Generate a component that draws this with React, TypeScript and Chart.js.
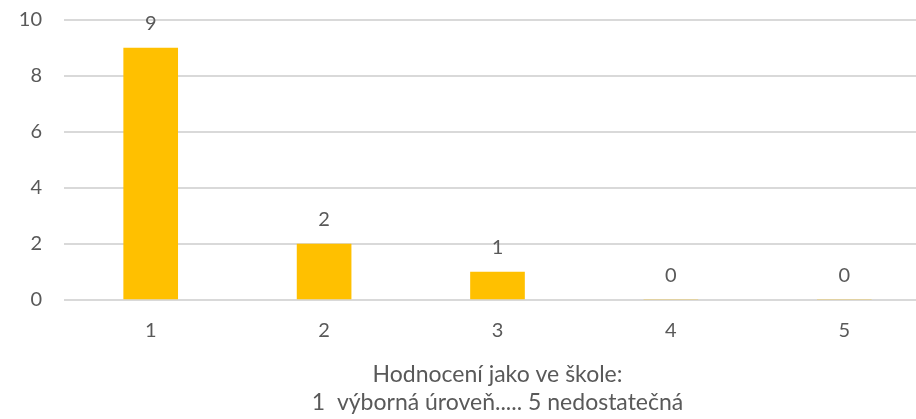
import React, { useEffect, useRef } from "react";
import { Chart, registerables } from "chart.js";

Chart.register(...registerables);

const categories = ["1", "2", "3", "4", "5"];
const counts = [9, 2, 1, 0, 0];
const axisTitle = ["Hodnocení jako ve škole:", "1  výborná úroveň..... 5 nedostatečná"];
const yMin = 0;
const yMax = 10;
const yStep = 2;

const FONT = "Lato, 'Open Sans', sans-serif";
const TEXT = "#595959";
const GRID = "#d9d9d9";
const BAR = "#FFC000";

const valueLabels = {
  id: "valueLabels",
  afterDatasetsDraw(chart: any) {
    const ctx = chart.ctx;
    const meta = chart.getDatasetMeta(0);
    ctx.save();
    ctx.font = `20px ${FONT}`;
    ctx.fillStyle = TEXT;
    ctx.textAlign = "center";
    ctx.textBaseline = "alphabetic";
    meta.data.forEach((bar: any, i: number) => {
      ctx.fillText(String(counts[i]), bar.x, bar.y - 18);
    });
    ctx.restore();
  },
};

export default function App() {
  const ref = useRef<HTMLCanvasElement>(null);
  useEffect(() => {
    if (!ref.current) return;
    const chart = new Chart(ref.current, {
      type: "bar",
      data: {
        labels: categories,
        datasets: [
          {
            data: counts,
            backgroundColor: BAR,
            barThickness: 54,
          },
        ],
      },
      options: {
        responsive: false,
        animation: false,
        devicePixelRatio: 1,
        layout: { padding: { top: 0, left: 0, right: 0, bottom: 0 } },
        plugins: {
          legend: { display: false },
          tooltip: { enabled: false },
        },
        scales: {
          y: {
            min: yMin,
            max: yMax,
            ticks: {
              stepSize: yStep,
              color: TEXT,
              font: { family: FONT, size: 20 },
              padding: 22,
            },
            grid: { color: GRID, lineWidth: 2, drawTicks: false },
            border: { display: false },
            afterFit(scale: any) {
              scale.width = 64;
              scale.paddingTop = 20;
            },
          },
          x: {
            ticks: {
              color: TEXT,
              font: { family: FONT, size: 20 },
              padding: 19,
            },
            grid: { display: false, drawTicks: false },
            border: { display: false },
            title: {
              display: true,
              text: axisTitle,
              color: TEXT,
              font: { family: FONT, size: 23, lineHeight: 1.22 },
              padding: { top: 10, bottom: 2 },
            },
            afterFit(scale: any) {
              scale.height = 119;
            },
          },
        },
      },
      plugins: [valueLabels],
    });
    return () => chart.destroy();
  }, []);
  return (
    <div style={{ position: "absolute", left: 0, top: 0, width: 916, height: 419, overflow: "hidden", background: "#fff" }}>
      <canvas ref={ref} width={931} height={419} style={{ display: "block" }} />
    </div>
  );
}
